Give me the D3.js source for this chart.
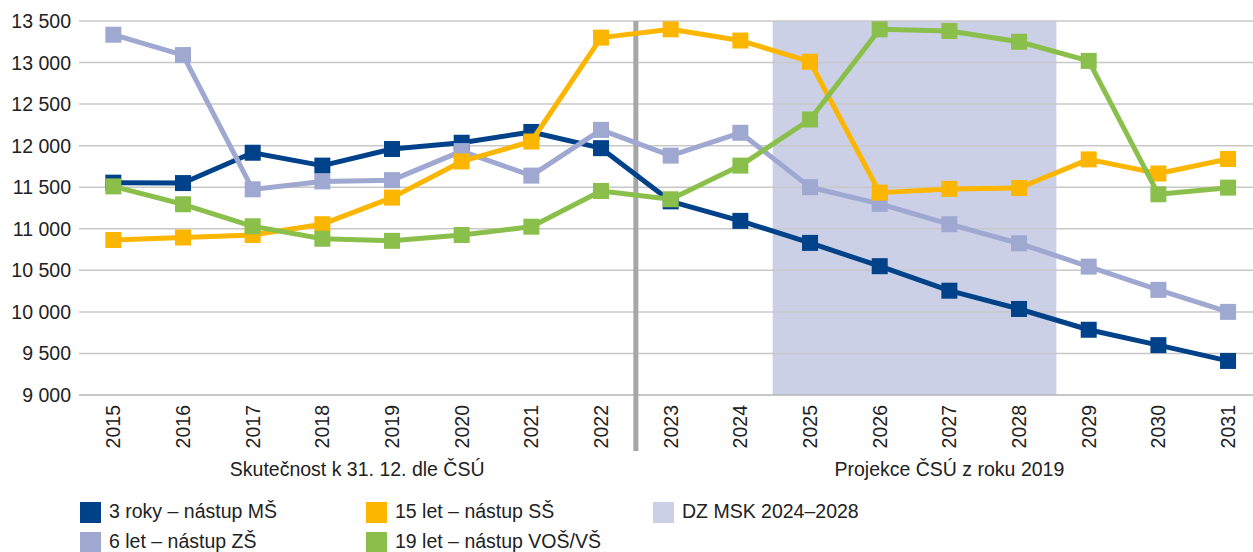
<!DOCTYPE html>
<html>
<head>
<meta charset="utf-8">
<script src="https://cdn.jsdelivr.net/npm/d3@7/dist/d3.min.js"></script>
<style>
  body { margin: 0; background: #fff; }
  svg text { font-family: "Liberation Sans", Arial, sans-serif; fill: #222; }
</style>
</head>
<body>
<div id="chart"></div>
<script>
// Data
const years = ['2015','2016','2017','2018','2019','2020','2021','2022','2023',
               '2024','2025','2026','2027','2028','2029','2030','2031'];

const age3  = [11555, 11550, 11915, 11760, 11960, 12035, 12165, 11970, 11330,
               11095, 10830, 10550, 10255, 10035, 9785, 9600, 9410];
const age6  = [13335, 13090, 11475, 11570, 11585, 11935, 11640, 12190, 11880,
               12155, 11500, 11300, 11055, 10825, 10545, 10265, 10000];
const age15 = [10865, 10895, 10925, 11055, 11375, 11810, 12050, 13300, 13400,
               13265, 13010, 11435, 11480, 11490, 11835, 11665, 11840];
const age19 = [11510, 11295, 11030, 10880, 10855, 10925, 11025, 11455, 11355,
               11760, 12315, 13400, 13380, 13250, 13020, 11415, 11495];

const yTicks = [9000, 9500, 10000, 10500, 11000, 11500, 12000, 12500, 13000, 13500];

const seriesNames = ['3 roky – nástup MŠ', '6 let – nástup ZŠ', '15 let – nástup SŠ', '19 let – nástup VOŠ/VŠ'];
const seriesColors = ['#00428a', '#9fa8d1', '#fdb600', '#8bbf4b'];
const seriesValues = [age3, age6, age15, age19];

const shadeYears = ['2025', '2028'];   // DZ MSK 2024–2028 band
const splitYear = '2023';              // actual vs projection
const groupLabels = ['Skutečnost k 31. 12. dle ČSÚ', 'Projekce ČSÚ z roku 2019'];

const width = 1253, height = 552;
const shadeColor = '#cbd0e6';

const svg = d3.select('#chart').append('svg')
    .attr('width', width)
    .attr('height', height);

const x = d3.scaleBand()
    .domain(years)
    .range([78.5, 78.5 + 17 * 69.67]);

const y = d3.scaleLinear()
    .domain([9000, 13500])
    .range([395, 21]);

const fmt = d3.formatLocale({decimal: ',', thousands: ' ', grouping: [3], currency: ['', '']}).format(',');

// shaded projection window
svg.append('rect')
    .attr('x', x(shadeYears[0]) - 2.5)
    .attr('y', y(13500))
    .attr('width', x(shadeYears[1]) + x.bandwidth() + 2.5 - (x(shadeYears[0]) - 2.5))
    .attr('height', y(9000) - y(13500))
    .attr('fill', shadeColor);

// gridlines
svg.append('g')
    .selectAll('line')
    .data(yTicks)
    .enter().append('line')
    .attr('x1', 79)
    .attr('x2', width)
    .attr('y1', d => y(d))
    .attr('y2', d => y(d))
    .attr('stroke', d => d === 9000 ? '#b5b5b5' : '#c8c8c8')
    .attr('stroke-width', 1.5);

// y labels
svg.append('g')
    .selectAll('text')
    .data(yTicks)
    .enter().append('text')
    .attr('x', 71)
    .attr('y', d => y(d))
    .attr('dy', '0.36em')
    .attr('text-anchor', 'end')
    .style('font-size', '19.5px')
    .text(d => fmt(d));

// x labels (rotated)
svg.append('g')
    .selectAll('text')
    .data(years)
    .enter().append('text')
    .attr('transform', d => `translate(${x(d) + x.bandwidth() / 2},405) rotate(-90)`)
    .attr('dy', '0.36em')
    .attr('text-anchor', 'end')
    .style('font-size', '19.5px')
    .text(d => d);

// separator between actual data and projection
svg.append('line')
    .attr('x1', x(splitYear))
    .attr('x2', x(splitYear))
    .attr('y1', y(13500))
    .attr('y2', 451)
    .attr('stroke', '#a6a6a6')
    .attr('stroke-width', 5);

// group labels
const leftMid = (x(years[0]) + x(splitYear)) / 2;
const rightMid = (x(splitYear) + x.range()[1]) / 2;
[leftMid, rightMid].forEach((cx, i) => {
    svg.append('text')
        .attr('x', cx)
        .attr('y', 476)
        .attr('text-anchor', 'middle')
        .style('font-size', '19.5px')
        .text(groupLabels[i]);
});

// series
const line = d3.line()
    .x((d, i) => x(years[i]) + x.bandwidth() / 2)
    .y(d => y(d));

seriesValues.forEach((vals, s) => {
    const g = svg.append('g');
    g.append('path')
        .datum(vals)
        .attr('d', line)
        .attr('fill', 'none')
        .attr('stroke', seriesColors[s])
        .attr('stroke-width', 5)
        .attr('stroke-linejoin', 'round');
    g.selectAll('rect')
        .data(vals)
        .enter().append('rect')
        .attr('x', (d, i) => x(years[i]) + x.bandwidth() / 2 - 8)
        .attr('y', d => y(d) - 8)
        .attr('width', 16)
        .attr('height', 16)
        .attr('fill', seriesColors[s]);
});

// legend
const legendItems = [
    {name: seriesNames[0], color: seriesColors[0], x: 80, y: 502},
    {name: seriesNames[2], color: seriesColors[2], x: 366, y: 502},
    {name: 'DZ MSK 2024–2028', color: shadeColor, x: 653, y: 502},
    {name: seriesNames[1], color: seriesColors[1], x: 80, y: 532},
    {name: seriesNames[3], color: seriesColors[3], x: 366, y: 532}
];

const legend = svg.append('g');
legendItems.forEach(item => {
    legend.append('rect')
        .attr('x', item.x)
        .attr('y', item.y)
        .attr('width', 21)
        .attr('height', 21)
        .attr('fill', item.color);
    legend.append('text')
        .attr('x', item.x + 29)
        .attr('y', item.y + 16)
        .style('font-size', '19.5px')
        .text(item.name);
});
</script>
</body>
</html>
